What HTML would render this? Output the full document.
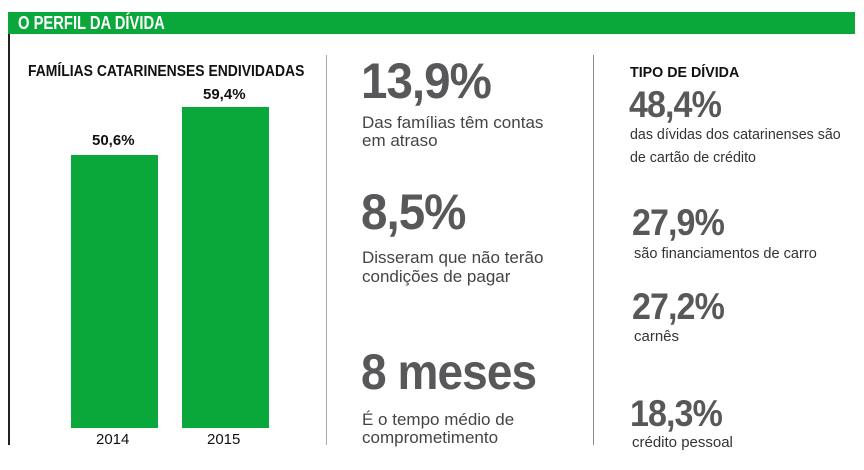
<!DOCTYPE html>
<html><head><meta charset="utf-8"><style>
body{margin:0;width:864px;height:470px;background:#fff;position:relative;overflow:hidden;font-family:"Liberation Sans",sans-serif}
.a{position:absolute;white-space:nowrap}
.c{transform-origin:0 0;display:inline-block}
.big{font-weight:bold;color:#58585a;letter-spacing:-1px}
.sub{color:#444;font-size:17px;line-height:18px}
.sm{color:#333;font-size:15px;line-height:23px}
.h{font-weight:bold;font-size:15px;color:#111}
</style></head><body>
<div class="a" style="left:8px;top:12px;width:847px;height:22px;background:#0aa73a"></div>
<div class="a h" style="left:18px;top:13px;color:#fff;font-size:18px"><span class="c" style="transform:scaleX(.82)">O PERFIL DA DÍVIDA</span></div>
<div class="a" style="left:8px;top:34px;width:2px;height:411px;background:#222"></div>
<div class="a" style="left:326px;top:55px;width:1px;height:390px;background:#aaa"></div>
<div class="a" style="left:593px;top:55px;width:1px;height:390px;background:#888"></div>
<div class="a h" style="left:28px;top:63px;font-size:16px"><span class="c" style="transform:scaleX(.87)">FAMÍLIAS CATARINENSES ENDIVIDADAS</span></div>
<div class="a" style="left:71px;top:155px;width:87px;height:273px;background:#0aa73a"></div>
<div class="a" style="left:182px;top:107px;width:87px;height:321px;background:#0aa73a"></div>
<div class="a h" style="left:92px;top:132px">50,6%</div>
<div class="a h" style="left:203px;top:86px">59,4%</div>
<div class="a" style="left:96px;top:431px;font-size:15px;color:#111">2014</div>
<div class="a" style="left:207px;top:431px;font-size:15px;color:#111">2015</div>

<div class="a big" style="left:361px;top:52px;font-size:50px"><span class="c" style="transform:scaleX(.95)">13,9%</span></div>
<div class="a sub" style="left:362px;top:114px">Das famílias têm contas<br>em atraso</div>
<div class="a big" style="left:361px;top:183px;font-size:50px"><span class="c" style="transform:scaleX(.95)">8,5%</span></div>
<div class="a sub" style="left:362px;top:248px;line-height:19px">Disseram que não terão<br>condições de pagar</div>
<div class="a big" style="left:361px;top:343px;font-size:50px"><span class="c" style="transform:scaleX(.92)">8 meses</span></div>
<div class="a sub" style="left:362px;top:411px">É o tempo médio de<br>comprometimento</div>

<div class="a h" style="left:630px;top:64px"><span class="c" style="transform:scaleX(.95)">TIPO DE DÍVIDA</span></div>
<div class="a big" style="left:629px;top:84px;font-size:37px"><span class="c" style="transform:scaleX(.92)">48,4%</span></div>
<div class="a sm" style="left:630px;top:123px"><span class="c" style="transform:scaleX(.95)">das dívidas dos catarinenses são<br>de cartão de crédito</span></div>
<div class="a big" style="left:632px;top:202px;font-size:37px"><span class="c" style="transform:scaleX(.92)">27,9%</span></div>
<div class="a sm" style="left:634px;top:242px"><span class="c" style="transform:scaleX(.97)">são financiamentos de carro</span></div>
<div class="a big" style="left:632px;top:286px;font-size:37px"><span class="c" style="transform:scaleX(.92)">27,2%</span></div>
<div class="a sm" style="left:634px;top:325px">carnês</div>
<div class="a big" style="left:630px;top:393px;font-size:37px"><span class="c" style="transform:scaleX(.92)">18,3%</span></div>
<div class="a sm" style="left:632px;top:431px">crédito pessoal</div>
</body></html>
